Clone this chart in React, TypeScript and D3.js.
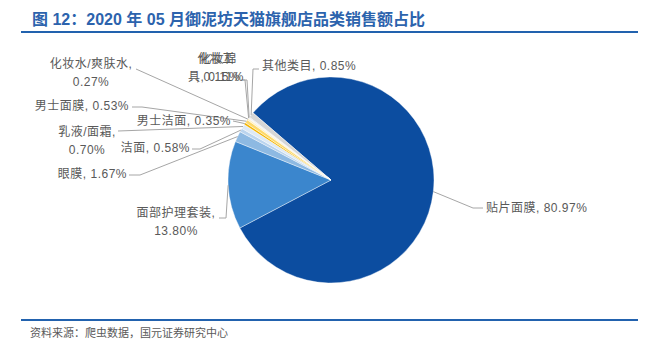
// Pie chart - 2020年05月御泥坊天猫旗舰店品类销售额占比

import * as d3 from "d3";

const categories = [
  "贴片面膜",
  "面部护理套装",
  "眼膜",
  "洁面",
  "乳液/面霜",
  "男士洁面",
  "男士面膜",
  "化妆水/爽肤水",
  "化妆工具",
  "化妆棉",
  "其他类目",
];
const shares = [80.97, 13.8, 1.67, 0.58, 0.7, 0.35, 0.53, 0.27, 0.11, 0.15, 0.85];
const colors = [
  "#0c4da0",
  "#3b86cd",
  "#8db9e2",
  "#bad4ee",
  "#dde9f5",
  "#f4b400",
  "#fdd96a",
  "#fff0c4",
  "#eeeeee",
  "#e6e6e6",
  "#d6d6d6",
];

// label layout: leader elbow points, text anchor point, line break position
const labelLayout = [
  { pts: [[473, 208], [483, 208]], x: 486, y: 208, anchor: "start", br: 0 },
  { pts: [[226, 218], [219, 218]], x: 176, y: 213, anchor: "middle", br: 7 },
  { pts: [[140, 175], [129, 175]], x: 127, y: 174, anchor: "end", br: 0 },
  { pts: [[200, 149], [192, 149]], x: 190, y: 148, anchor: "end", br: 0 },
  { pts: [[118, 131]], x: 87, y: 132, anchor: "middle", br: 6 },
  { pts: [[233, 121]], x: 231, y: 121, anchor: "end", br: 0 },
  { pts: [[142, 107], [132, 107]], x: 129, y: 106, anchor: "end", br: 0 },
  { pts: [[136, 69]], x: 91, y: 64, anchor: "middle", br: 8 },
  { pts: [[245, 80], [241, 80]], x: 216, y: 59, anchor: "middle", br: 3 },
  { pts: [[247, 80], [243, 80]], x: 218, y: 59, anchor: "middle", br: 3 },
  { pts: [[253, 69], [259, 69]], x: 262, y: 66, anchor: "start", br: 0 },
];

const width = 660;
const height = 352;
const cx = 331;
const cy = 180;
const radius = 103;

export default function App() {
  const data = categories.map((name, i) => ({ name, value: shares[i], color: colors[i] }));

  const startAngle = (-49.3 * Math.PI) / 180;
  const pie = d3
    .pie<{ name: string; value: number; color: string }>()
    .sort(null)
    .value((d) => d.value)
    .startAngle(startAngle)
    .endAngle(startAngle + 2 * Math.PI);

  const arcs = pie(data);
  const arc = d3.arc<d3.PieArcDatum<any>>().innerRadius(0).outerRadius(radius);
  const edge = d3.arc<d3.PieArcDatum<any>>().innerRadius(radius).outerRadius(radius);
  const line = d3.line();

  const font = "'Liberation Sans', 'Noto Sans CJK SC', sans-serif";

  return (
    <svg width={width} height={height} style={{ position: "absolute", left: 0, top: 0 }}>
      <rect width={width} height={height} fill="#fff" />
      <text
        x={32}
        y={19}
        dominantBaseline="central"
        fill="#2c63ad"
        fontFamily={font}
        fontWeight="bold"
        fontSize={16}
      >
        图 12：2020 年 05 月御泥坊天猫旗舰店品类销售额占比
      </text>
      <line x1={21} x2={638} y1={32} y2={32} stroke="#2262ae" strokeWidth={2} />

      <g transform={`translate(${cx},${cy})`}>
        {arcs.map((a, i) => (
          <path key={i} d={arc(a) || ""} fill={a.data.color} stroke="#fff" strokeWidth={0.4} />
        ))}
      </g>

      {arcs.map((a, i) => {
        const [ex, ey] = edge.centroid(a);
        const lay = labelLayout[i];
        const pts: [number, number][] = [[cx + ex, cy + ey], ...(lay.pts as [number, number][])];
        return <path key={i} d={line(pts) || ""} fill="none" stroke="#a6a6a6" strokeWidth={1} />;
      })}

      {arcs.map((a, i) => {
        const lay = labelLayout[i];
        const full = `${a.data.name}, ${a.data.value.toFixed(2)}%`;
        const lines = lay.br ? [full.slice(0, lay.br), full.slice(lay.br).trim()] : [full];
        return (
          <text
            key={i}
            x={lay.x}
            y={lay.y}
            textAnchor={lay.anchor}
            dominantBaseline="central"
            fill="#595959"
            fontFamily={font}
            fontSize={12}
            letterSpacing={0.5}
          >
            {lines.map((l, j) => (
              <tspan key={j} x={lay.x} dy={j === 0 ? 0 : 18}>
                {l}
              </tspan>
            ))}
          </text>
        );
      })}

      <line x1={21} x2={638} y1={320} y2={320} stroke="#2262ae" strokeWidth={2} />
      <text x={30} y={333} dominantBaseline="central" fill="#595959" fontFamily={font} fontSize={11}>
        资料来源：爬虫数据，国元证券研究中心
      </text>
    </svg>
  );
}
